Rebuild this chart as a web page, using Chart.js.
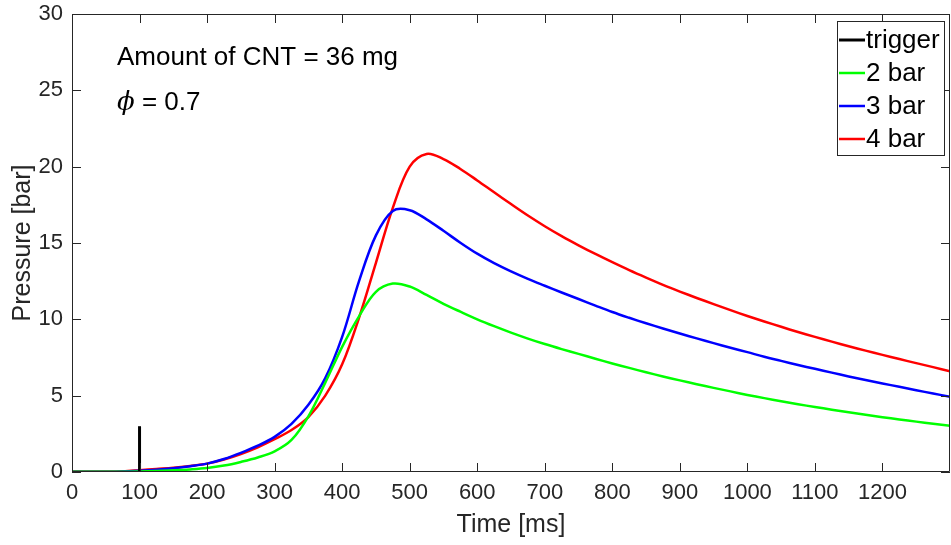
<!DOCTYPE html>
<html>
<head>
<meta charset="utf-8">
<script src="https://cdn.jsdelivr.net/npm/chart.js@4.4.1/dist/chart.umd.min.js"></script>
<style>
  html, body { margin: 0; padding: 0; background: #ffffff; }
  #wrap { width: 951px; height: 545px; }
</style>
</head>
<body>
<div id="wrap"><canvas id="c" width="951" height="545"></canvas></div>
<script>
// Sample times [ms]
const timeMs = [
  0, 25, 50, 75, 100, 125, 150, 175, 200, 225,
  250, 275, 300, 325, 350, 375, 400, 425, 450, 475,
  500, 525, 550, 575, 600, 625, 650, 675, 700, 725,
  750, 775, 800, 825, 850, 875, 900, 925, 950, 975,
  1000, 1025, 1050, 1075, 1100, 1125, 1150, 1175, 1200, 1225,
  1250, 1275, 1300
];

// Pressure [bar] for each initial pressure
const p2bar = [
  0.02, 0.02, 0.02, 0.02, 0.04, 0.07, 0.11, 0.17, 0.26, 0.42,
  0.66, 0.95, 1.35, 2.1, 3.65, 5.85, 8.2, 10.2, 11.8, 12.34,
  12.15, 11.6, 11.02, 10.5, 10.0, 9.55, 9.13, 8.74, 8.38, 8.05,
  7.74, 7.42, 7.11, 6.82, 6.53, 6.26, 6.0, 5.75, 5.51, 5.28,
  5.05, 4.84, 4.64, 4.44, 4.26, 4.08, 3.91, 3.75, 3.59, 3.44,
  3.3, 3.16, 3.03
];
const p3bar = [
  0.02, 0.02, 0.02, 0.03, 0.08, 0.15, 0.25, 0.38, 0.55, 0.85,
  1.25, 1.72, 2.3, 3.15, 4.4, 6.15, 8.85, 12.5, 15.5, 17.1,
  17.15, 16.55, 15.8, 15.02, 14.3, 13.68, 13.14, 12.65, 12.2, 11.76,
  11.33, 10.9, 10.48, 10.1, 9.74, 9.4, 9.07, 8.75, 8.44, 8.14,
  7.85, 7.55, 7.28, 7.01, 6.76, 6.51, 6.26, 6.03, 5.8, 5.58,
  5.36, 5.14, 4.93
];
const p4bar = [
  0.03, 0.03, 0.03, 0.05, 0.12, 0.2, 0.28, 0.4, 0.55, 0.82,
  1.18, 1.62, 2.15, 2.75, 3.6, 5.0, 7.05, 10.1, 13.7, 17.3,
  20.0, 20.83, 20.5, 19.85, 19.1, 18.32, 17.55, 16.8, 16.1, 15.45,
  14.85, 14.28, 13.74, 13.22, 12.73, 12.26, 11.82, 11.4, 11.0, 10.6,
  10.22, 9.86, 9.51, 9.17, 8.85, 8.54, 8.24, 7.95, 7.67, 7.4,
  7.13, 6.87, 6.6
];

// Trigger pulse
const triggerTime = [100, 100];
const triggerPressure = [0, 3];

// Axis ticks
const xTicks = [0, 100, 200, 300, 400, 500, 600, 700, 800, 900, 1000, 1100, 1200];
const yTicks = [0, 5, 10, 15, 20, 25, 30];

const toPoints = (xs, ys) => xs.map((x, i) => ({ x: x, y: ys[i] }));

const AXIS_COLOR = '#262626';
const SANS = '"Liberation Sans", Arial, sans-serif';

// Box around the axes with inward ticks on all four sides
const framePlugin = {
  id: 'frame',
  afterDatasetsDraw(chart) {
    const ctx = chart.ctx;
    const { left, right, top, bottom } = chart.chartArea;
    const sx = chart.scales.x, sy = chart.scales.y;
    const len = 9;
    ctx.save();
    ctx.strokeStyle = AXIS_COLOR;
    ctx.lineWidth = 1;
    ctx.beginPath();
    ctx.rect(left + 0.5, top + 0.5, right - left - 1, bottom - top - 1);
    sx.ticks.forEach(t => {
      const px = Math.round(sx.getPixelForValue(t.value)) + 0.5;
      ctx.moveTo(px, bottom); ctx.lineTo(px, bottom - len);
      ctx.moveTo(px, top); ctx.lineTo(px, top + len);
    });
    sy.ticks.forEach(t => {
      const py = Math.round(sy.getPixelForValue(t.value)) + 0.5;
      ctx.moveTo(left, py); ctx.lineTo(left + len, py);
      ctx.moveTo(right, py); ctx.lineTo(right - len, py);
    });
    ctx.stroke();
    ctx.restore();
  },
  afterDraw(chart) {
    const ctx = chart.ctx;
    const { left, right, top } = chart.chartArea;
    ctx.save();

    // Annotations
    ctx.fillStyle = '#000000';
    ctx.textBaseline = 'alphabetic';
    ctx.textAlign = 'left';
    ctx.font = '26px ' + SANS;
    ctx.fillText('Amount of CNT = 36 mg', left + 45, top + 51);
    ctx.font = 'italic 26px "DejaVu Serif", serif';
    const phi = '\u03D5';
    ctx.fillText(phi, left + 45, top + 96);
    const phiW = ctx.measureText(phi).width;
    ctx.font = '26px ' + SANS;
    ctx.fillText(' = 0.7', left + 45 + phiW, top + 96);

    // Legend inside the upper right corner
    const ds = chart.data.datasets;
    const boxW = 108, rowH = 33;
    const boxR = right - 5, boxL = boxR - boxW, boxT = top + 7;
    const boxH = rowH * ds.length + 3;
    ctx.fillStyle = '#ffffff';
    ctx.fillRect(boxL, boxT, boxW, boxH);
    ctx.strokeStyle = AXIS_COLOR;
    ctx.lineWidth = 1;
    ctx.strokeRect(boxL + 0.5, boxT + 0.5, boxW - 1, boxH - 1);
    ctx.font = '26px ' + SANS;
    ctx.textBaseline = 'middle';
    ds.forEach((d, i) => {
      const cy = boxT + 19 + i * rowH;
      ctx.strokeStyle = d.borderColor;
      ctx.lineWidth = d.borderWidth;
      ctx.beginPath();
      ctx.moveTo(boxL + 2, cy);
      ctx.lineTo(boxL + 28, cy);
      ctx.stroke();
      ctx.fillStyle = '#000000';
      ctx.fillText(d.label, boxL + 29, cy + 1);
    });
    ctx.restore();
  }
};

const lineStyle = {
  pointRadius: 0,
  borderWidth: 2.5,
  fill: false,
  tension: 0.35
};

new Chart(document.getElementById('c'), {
  type: 'line',
  data: {
    datasets: [
      { label: 'trigger', data: toPoints(triggerTime, triggerPressure),
        borderColor: '#000000', borderWidth: 3, pointRadius: 0, fill: false },
      Object.assign({ label: '2 bar', data: toPoints(timeMs, p2bar), borderColor: '#00ff00' }, lineStyle),
      Object.assign({ label: '3 bar', data: toPoints(timeMs, p3bar), borderColor: '#0000ff' }, lineStyle),
      Object.assign({ label: '4 bar', data: toPoints(timeMs, p4bar), borderColor: '#ff0000' }, lineStyle)
    ]
  },
  options: {
    responsive: false,
    animation: false,
    devicePixelRatio: 1,
    layout: { padding: { top: 14, right: 1, left: 0, bottom: 0 } },
    plugins: { legend: { display: false }, tooltip: { enabled: false } },
    scales: {
      x: {
        type: 'linear',
        min: 0, max: 1300,
        grid: { display: false, drawTicks: false },
        border: { display: false },
        afterBuildTicks: s => { s.ticks = xTicks.map(v => ({ value: v })); },
        afterFit: s => { s.height = 73; s.paddingLeft = 0; s.paddingRight = 0; },
        ticks: {
          padding: 8,
          maxRotation: 0,
          autoSkip: false,
          color: AXIS_COLOR,
          callback: v => String(v),
          font: { family: SANS, size: 22 }
        },
        title: {
          display: true,
          text: 'Time [ms]',
          color: AXIS_COLOR,
          padding: { top: 0, bottom: 5 },
          font: { family: SANS, size: 25 }
        }
      },
      y: {
        type: 'linear',
        min: 0, max: 30,
        grid: { display: false, drawTicks: false },
        border: { display: false },
        afterBuildTicks: s => { s.ticks = yTicks.map(v => ({ value: v })); },
        afterFit: s => { s.width = 72; s.paddingTop = 0; s.paddingBottom = 0; },
        ticks: {
          padding: 9,
          autoSkip: false,
          color: AXIS_COLOR,
          callback: v => String(v),
          font: { family: SANS, size: 22 }
        },
        title: {
          display: true,
          text: 'Pressure [bar]',
          color: AXIS_COLOR,
          padding: { top: 8, bottom: 0 },
          font: { family: SANS, size: 25 }
        }
      }
    }
  },
  plugins: [framePlugin]
});
</script>
</body>
</html>
